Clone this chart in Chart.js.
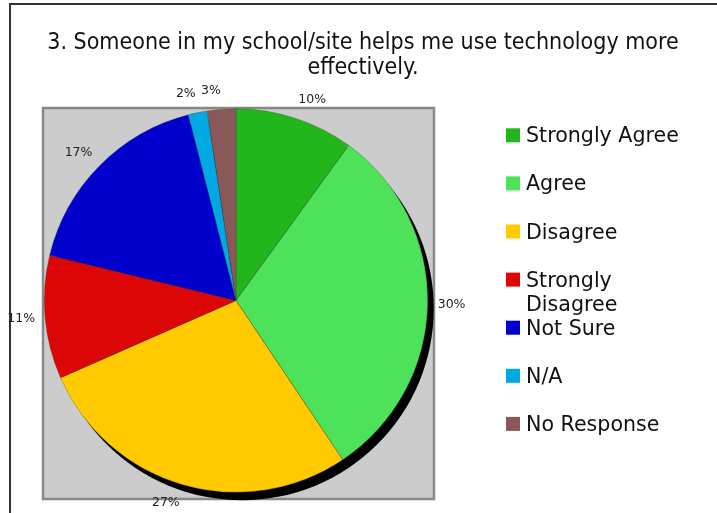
<!DOCTYPE html>
<html>
<head>
<meta charset="utf-8">
<script src="https://cdn.jsdelivr.net/npm/chart.js@4.4.1/dist/chart.umd.min.js"></script>
<style>
  html, body { margin: 0; padding: 0; background: #fff; }
  #wrap { width: 717px; height: 513px; }
</style>
</head>
<body>
<div id="wrap"><canvas id="pie" width="717" height="513"></canvas></div>
<script>
const titleLines = ["3. Someone in my school/site helps me use technology more", "effectively."]
const categories = ["Strongly Agree", "Agree", "Disagree", "Strongly Disagree", "Not Sure", "N/A", "No Response"]
// slice sizes (percent of responses)
const shares = [10, 30.6, 27.8, 10.4, 17.2, 1.6, 2.4]
const pctLabels = ["10%", "30%", "27%", "11%", "17%", "2%", "3%"]
const colors = ["#20b61c", "#4de25a", "#ffcb00", "#dc0606", "#0000cc", "#00a8e4", "#8a5858"]

const fontFam = "'DejaVu Sans', Verdana, sans-serif"

// frame, grey plot box, title, legend
const decor = {
    id: "decor",
    beforeDraw(chart) {
        const ctx = chart.ctx
        ctx.save()
        ctx.fillStyle = "#fff"
        ctx.fillRect(0, 0, chart.width, chart.height)
        // outer frame (right/bottom fall off the picture)
        ctx.strokeStyle = "#333"
        ctx.lineWidth = 2
        ctx.strokeRect(10, 4, 800, 600)
        // grey plot area
        ctx.fillStyle = "#cccccc"
        ctx.fillRect(43, 108, 391, 391)
        ctx.strokeStyle = "#888"
        ctx.lineWidth = 2.5
        ctx.strokeRect(43, 108, 391, 391)
        // title
        ctx.fillStyle = "#111"
        ctx.font = "23px 'DejaVu Sans Condensed', 'DejaVu Sans', sans-serif"
        ctx.textAlign = "center"
        ctx.textBaseline = "middle"
        titleLines.forEach((t, i) => ctx.fillText(t, 363, 43 + i * 25))
        // legend
        ctx.textAlign = "left"
        ctx.textBaseline = "alphabetic"
        ctx.font = "20.6px " + fontFam
        categories.forEach((c, i) => {
            const yc = 135.3 + i * 48.1
            ctx.fillStyle = colors[i]
            ctx.fillRect(506, yc - 7, 14, 14)
            ctx.fillStyle = "#111"
            const words = c === "Strongly Disagree" ? ["Strongly", "Disagree"] : [c]
            words.forEach((w, j) => ctx.fillText(w, 526, yc + 7 + j * 24.5))
        })
        ctx.restore()
    },
    beforeDatasetsDraw(chart) {
        // black drop shadow behind the pie
        const arc = chart.getDatasetMeta(0).data[0]
        if (!arc) return
        const ctx = chart.ctx
        ctx.save()
        ctx.fillStyle = "#000"
        ctx.beginPath()
        ctx.arc(arc.x + 6, arc.y + 8, arc.outerRadius, 0, Math.PI * 2)
        ctx.fill()
        ctx.restore()
    },
    afterDatasetsDraw(chart) {
        // percentage labels just outside the slices, pushed away from the pie
        const ctx = chart.ctx
        ctx.save()
        ctx.fillStyle = "#222"
        ctx.font = "12.5px " + fontFam
        ctx.textBaseline = "middle"
        chart.getDatasetMeta(0).data.forEach((a, i) => {
            const mid = (a.startAngle + a.endAngle) / 2
            const r = a.outerRadius + 10
            const x = a.x + Math.cos(mid) * r
            const y = a.y + Math.sin(mid) * (r + 9)
            ctx.textAlign = Math.cos(mid) >= 0 ? "left" : "right"
            ctx.fillText(pctLabels[i], x, y)
        })
        ctx.restore()
    }
}

new Chart(document.getElementById("pie"), {
    type: "pie",
    data: {
        labels: categories,
        datasets: [{
            data: shares,
            backgroundColor: colors,
            borderColor: "rgba(60,60,60,0.6)",
            borderWidth: 0.5
        }]
    },
    options: {
        responsive: false,
        animation: false,
        layout: { padding: { left: 44, right: 289, top: 108.5, bottom: 20.5 } },
        plugins: {
            legend: { display: false },
            title: { display: false },
            tooltip: { enabled: false }
        }
    },
    plugins: [decor]
})
</script>
</body>
</html>
